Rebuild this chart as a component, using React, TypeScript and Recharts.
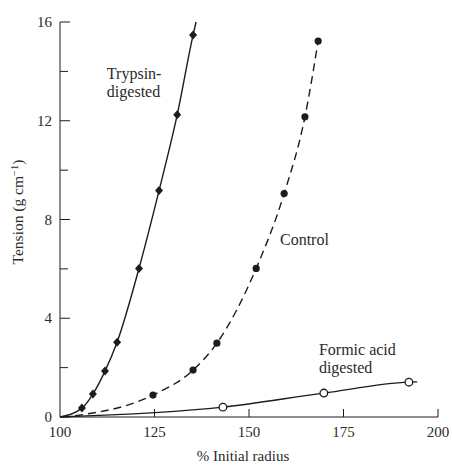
import React from "react";
import { LineChart, Line, XAxis, YAxis, Label, ReferenceDot } from "recharts";

// % initial radius vs tension, three treatments
const trypsinRadius = [105.8, 108.7, 111.9, 115.1, 120.9, 126.2, 131.0, 135.2];
const trypsinTension = [0.36, 0.93, 1.86, 3.03, 6.02, 9.17, 12.24, 15.47];

const controlRadius = [124.6, 135.2, 141.5, 151.9, 159.3, 164.8, 168.3];
const controlTension = [0.89, 1.9, 2.99, 6.02, 9.05, 12.16, 15.23];

const formicRadius = [143.1, 169.8, 192.3];
const formicTension = [0.4, 0.97, 1.41];

// unmarked ends of each curve
const trypsinStart = [100, 0];
const trypsinEnd = [136, 16];
const controlStart = [104, 0.05];
const formicStart = [100, 0];
const formicEnd = [194.5, 1.42];

const xTicks = [100, 125, 150, 175, 200];
const yTicks = [0, 2, 4, 6, 8, 10, 12, 14, 16];

const INK = "#1c1c1c";
const TEXT = "#2a2a2a";
const FONT = "'Liberation Serif', 'DejaVu Serif', serif";

type Row = { r: number; t: number; m: boolean };

function curve(xs: number[], ys: number[], start?: number[], end?: number[]): Row[] {
  const rows: Row[] = xs.map((r, i) => ({ r, t: ys[i], m: true }));
  if (start) rows.unshift({ r: start[0], t: start[1], m: false });
  if (end) rows.push({ r: end[0], t: end[1], m: false });
  return rows;
}

const trypsin = curve(trypsinRadius, trypsinTension, trypsinStart, trypsinEnd);
const control = curve(controlRadius, controlTension, controlStart);
const formic = curve(formicRadius, formicTension, formicStart, formicEnd);

const diamond = (p: any) =>
  p.payload.m ? (
    <path
      key={`tr${p.index}`}
      d={`M${p.cx},${p.cy - 4.5}L${p.cx + 4},${p.cy}L${p.cx},${p.cy + 4.5}L${p.cx - 4},${p.cy}Z`}
      fill={INK}
    />
  ) : (
    <g key={`tr${p.index}`} />
  );

const filledDot = (p: any) =>
  p.payload.m ? <circle key={`co${p.index}`} cx={p.cx} cy={p.cy} r={3.6} fill={INK} /> : <g key={`co${p.index}`} />;

const openDot = (p: any) =>
  p.payload.m ? (
    <circle key={`fa${p.index}`} cx={p.cx} cy={p.cy} r={3.8} fill="#fff" stroke={INK} strokeWidth={1.3} />
  ) : (
    <g key={`fa${p.index}`} />
  );

// ticks point into the plot; labels only on the major ones
const YTick = ({ x, y, payload }: any) => {
  const major = payload.value % 4 === 0;
  return (
    <g>
      <line x1={x} x2={x + (major ? 10 : 8)} y1={y} y2={y} stroke={INK} strokeWidth={1} />
      {major && (
        <text x={x - 8} y={y} dy={5} textAnchor="end" fill={TEXT} fontSize={15} fontFamily={FONT}>
          {payload.value}
        </text>
      )}
    </g>
  );
};

const XTick = ({ x, y, payload }: any) => (
  <g>
    {payload.value !== 100 && <line x1={x} x2={x} y1={y} y2={y - 8} stroke={INK} strokeWidth={1} />}
    <text x={x} y={y} dy={20} textAnchor="middle" fill={TEXT} fontSize={15} fontFamily={FONT}>
      {payload.value}
    </text>
  </g>
);

const note = (lines: string[]) => (p: any) => (
  <text x={p.cx} y={p.cy} fill={TEXT} fontSize={16} fontFamily={FONT}>
    {lines.map((s, i) => (
      <tspan key={s} x={p.cx} dy={i === 0 ? 0 : 18}>
        {s}
      </tspan>
    ))}
  </text>
);

export default function App() {
  return (
    <div style={{ position: "absolute", left: 0, top: 0, background: "#fff" }}>
      <LineChart width={452} height={466} margin={{ top: 22, right: 14, bottom: 0, left: 0 }}>
        <XAxis
          type="number"
          dataKey="r"
          domain={[100, 200]}
          ticks={xTicks}
          interval={0}
          tickSize={0}
          tickMargin={0}
          tick={<XTick />}
          height={49}
          stroke={INK}
        >
          <Label
            content={() => (
              <text x={243} y={461} textAnchor="middle" fill={TEXT} fontSize={15} fontFamily={FONT}>
                % Initial radius
              </text>
            )}
          />
        </XAxis>
        <YAxis
          type="number"
          domain={[0, 16]}
          ticks={yTicks}
          interval={0}
          tickSize={0}
          tickMargin={0}
          tick={<YTick />}
          width={60}
          stroke={INK}
        >
          <Label
            content={() => (
              <text
                x={23}
                y={212}
                transform="rotate(-90 23 212)"
                textAnchor="middle"
                fill={TEXT}
                fontSize={15.5}
                fontFamily={FONT}
              >
                Tension (g cm
                <tspan dy={-5} fontSize={10.5}>
                  −1
                </tspan>
                <tspan dy={5}>)</tspan>
              </text>
            )}
          />
        </YAxis>

        <Line
          data={formic}
          dataKey="t"
          type="monotone"
          stroke={INK}
          strokeWidth={1.3}
          dot={openDot}
          activeDot={false}
          isAnimationActive={false}
        />
        <Line
          data={control}
          dataKey="t"
          type="monotone"
          stroke={INK}
          strokeWidth={1.4}
          strokeDasharray="8 5"
          dot={filledDot}
          activeDot={false}
          isAnimationActive={false}
        />
        <Line
          data={trypsin}
          dataKey="t"
          type="monotone"
          stroke={INK}
          strokeWidth={1.4}
          dot={diamond}
          activeDot={false}
          isAnimationActive={false}
        />

        <ReferenceDot x={112.4} y={13.7} r={0} shape={note(["Trypsin-", "digested"])} />
        <ReferenceDot x={158.2} y={6.95} r={0} shape={note(["Control"])} />
        <ReferenceDot x={168.5} y={2.5} r={0} shape={note(["Formic acid", "digested"])} />
      </LineChart>
    </div>
  );
}
